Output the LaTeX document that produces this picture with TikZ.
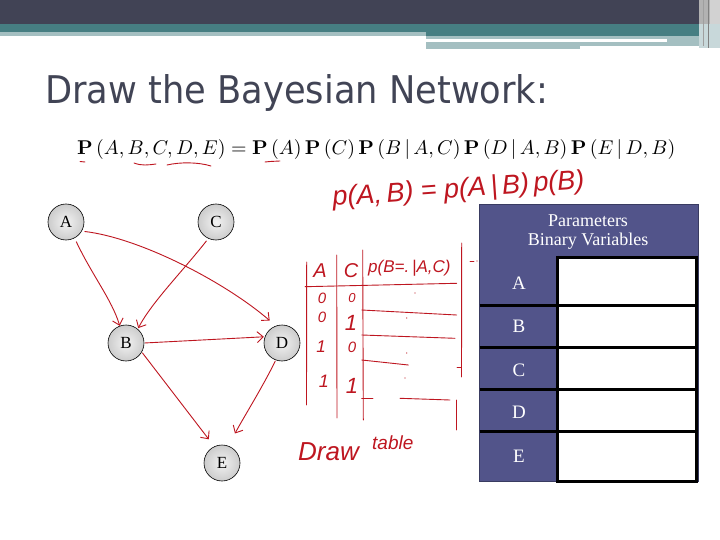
\documentclass[tikz,border=0pt]{standalone}
\usepackage[no-math]{fontspec}
\setmainfont{Liberation Serif}
\newfontfamily\titlefont{DejaVu Sans}
\newfontfamily\handfont{Liberation Sans}
\usetikzlibrary{arrows.meta}
\definecolor{hdark}{RGB}{65,67,85}
\definecolor{hteal}{RGB}{70,126,130}
\definecolor{hlight}{RGB}{164,191,193}
\definecolor{titlecol}{RGB}{65,68,85}
\definecolor{hred}{RGB}{190,22,32}
\definecolor{tpurple}{RGB}{82,84,138}
\tikzset{
  bnode/.style={circle, draw=black, line width=0.6pt, minimum size=36pt, inner sep=0pt,
    inner color=gray!10, outer color=gray!40, font=\fontsize{17}{20}\selectfont},
  hand/.style={draw=hred, line width=0.9pt, line cap=round, line join=round},
  harrow/.style={hand, -{Straight Barb[length=6pt,width=11pt]}},
  htext/.style={text=hred, inner sep=0pt, font=\handfont\itshape},
  tlabel/.style={text=white, inner sep=0pt, font=\fontsize{19}{22}\selectfont},
  thead/.style={text=white, inner sep=0pt, font=\fontsize{18}{21}\selectfont},
  tline/.style={draw=black, line width=3pt},
}
\begin{document}
\begin{tikzpicture}[x=1pt,y=-1pt]
\useasboundingbox (0,0) rectangle (720,540);
\fill[white] (0,0) rectangle (720,540);
% header bars
\fill[hdark] (0,0) rectangle (720,24);
\fill[hteal] (0,24) rectangle (699,32);
\fill[hteal] (426,32) rectangle (699,36);
\fill[hlight] (0,32) rectangle (426,36);
\fill[hlight] (426,36) rectangle (707,46);
\fill[hlight] (426,46) rectangle (580,49);
\fill[white] (426,39) rectangle (667,42);
\fill[gray!60] (699,0) rectangle (710,24);
\fill[gray!35] (710,0) rectangle (720,24);
\fill[hlight!60] (699,24) rectangle (720,48);
\draw[gray!75, line width=1pt] (703,0) -- (703,46);
\draw[gray, line width=1pt] (708,0) -- (708,48);
% title
\node[anchor=base west, inner sep=0pt, text=titlecol] (title) at (45,103.5)
  {\resizebox{503pt}{29pt}{\titlefont Draw the Bayesian Network:}};
% formula
\node[anchor=base west, inner sep=0pt] (formula) at (77,154.5)
  {\resizebox{598pt}{!}{$\mathbf{P}\left(A,B,C,D,E\right)=\mathbf{P}\left(A\right)\mathbf{P}\left(C\right)\mathbf{P}\left(B\,|\,A,C\right)\mathbf{P}\left(D\,|\,A,B\right)\mathbf{P}\left(E\,|\,D,B\right)$}};
% red underlines
\draw[hand] (80,161.5) -- (85,162);
\draw[hand] (134,163) .. controls (142,166) and (148,165) .. (156,164);
\draw[hand] (167,165) .. controls (180,162) and (198,162) .. (211,166);
\draw[hand] (265,162) -- (270,161.5) -- (280,161);
% handwritten equation
\node[htext, anchor=base west, rotate=4, font=\handfont\itshape\fontsize{27}{30}\selectfont] (pab) at (333,206)
  {p(A,\,B) = p(A\,|\,B)\,p(B)};
% Bayesian network
\node[bnode] (A) at (66,222) {A};
\node[bnode] (C) at (216,222) {C};
\node[bnode] (B) at (126,343) {B};
\node[bnode] (D) at (282,343) {D};
\node[bnode] (E) at (222,463) {E};
\draw[harrow, shorten <=4pt] (A.-62) .. controls (92,275) and (112,300) .. (B.110);
\draw[harrow, shorten <=3pt, shorten >=8pt] (A.-30) .. controls (140,238) and (225,282) .. (D.110);
\draw[harrow, shorten <=3pt, shorten >=1pt] (C.245) .. controls (182,272) and (152,302) .. (B.50);
\draw[harrow, shorten <=1pt, shorten >=1pt] (B.east) -- (D.160);
\draw[harrow, shorten <=1pt, shorten >=9pt] (B.-30) -- (E.115);
\draw[harrow, shorten <=1pt, shorten >=14pt] (D.250) .. controls (262,388) and (245,415) .. (E.70);
% handwritten table
\draw[hand] (306.7,262) -- (306.5,405);
\draw[hand] (336.7,255) -- (337,418);
\draw[hand] (362.7,250) -- (363.3,420);
\draw[hand] (461.7,243) -- (461.5,377);
\draw[hand] (457,367) -- (461,367);
\draw[hand] (305,286.7) -- (456.7,283.3);
\draw[hand] (361.7,310) -- (456.7,315);
\draw[hand] (361.7,335) -- (455,338.3);
\draw[hand] (361.7,360) -- (408.3,365);
\draw[hand] (361.7,398.3) -- (373,398.3);
\draw[hand] (400,398.3) -- (450,400);
\draw[hand] (456.7,400) -- (456.7,430);
\draw[hand] (470,261) -- (474,261);
\fill[hred] (477,261) circle (0.7);
\fill[hred] (415,293) circle (0.6);
\fill[hred] (406.7,318) circle (0.6);
\fill[hred] (406.7,353) circle (0.6);
\fill[hred] (405,378) circle (0.6);
\node[htext, font=\handfont\itshape\fontsize{20}{22}\selectfont] (tA) at (320,271) {A};
\node[htext, font=\handfont\itshape\fontsize{20}{22}\selectfont] (tC) at (351,271) {C};
\node[htext, anchor=base west, font=\handfont\itshape\fontsize{17}{20}\selectfont] (tP) at (368,272) {p(B=.\,|A,C)};
\node[htext, font=\handfont\itshape\fontsize{15}{16}\selectfont] (r1a) at (322,298) {0};
\node[htext, font=\handfont\itshape\fontsize{13}{14}\selectfont] (r1b) at (352,298) {0};
\node[htext, font=\handfont\itshape\fontsize{15}{16}\selectfont] (r2a) at (322,317) {0};
\node[htext, font=\handfont\itshape\fontsize{22}{24}\selectfont] (r2b) at (351,323) {1};
\node[htext, font=\handfont\itshape\fontsize{17}{18}\selectfont] (r3a) at (321,347) {1};
\node[htext, font=\handfont\itshape\fontsize{15}{16}\selectfont] (r3b) at (352,347) {0};
\node[htext, font=\handfont\itshape\fontsize{18}{20}\selectfont] (r4a) at (324,381) {1};
\node[htext, font=\handfont\itshape\fontsize{22}{24}\selectfont] (r4b) at (352,386) {1};
\node[htext, anchor=base west, font=\handfont\itshape\fontsize{26}{28}\selectfont] (draw) at (298,460) {Draw};
\node[htext, anchor=base west, font=\handfont\itshape\fontsize{19}{22}\selectfont] (tbl) at (372,449) {table};
% parameters table
\fill[tpurple] (479.5,204) rectangle (698,481.5);
\draw[tpurple!70!black, line width=0.8pt] (479.5,204) rectangle (698,481.5);
\fill[white] (557.3,257.3) rectangle (698,481.5);
\draw[tline] (557.3,257.3) -- (698,257.3);
\draw[tline] (479.5,305.7) -- (698,305.7);
\draw[tline] (479.5,347.3) -- (698,347.3);
\draw[tline] (479.5,389.7) -- (698,389.7);
\draw[tline] (479.5,431.3) -- (698,431.3);
\draw[tline] (557.3,481) -- (698,481);
\draw[tline] (557.3,255.8) -- (557.3,482.5);
\draw[tline] (696.5,255.8) -- (696.5,482.5);
\node[thead] (ph1) at (588,221) {Parameters};
\node[thead] (ph2) at (588,241) {Binary Variables};
\node[tlabel] (la) at (519,283.3) {A};
\node[tlabel] (lb) at (519,326.7) {B};
\node[tlabel] (lc) at (519,370) {C};
\node[tlabel] (ld) at (519,412.7) {D};
\node[tlabel] (le) at (519,456.7) {E};
\end{tikzpicture}
\end{document}
